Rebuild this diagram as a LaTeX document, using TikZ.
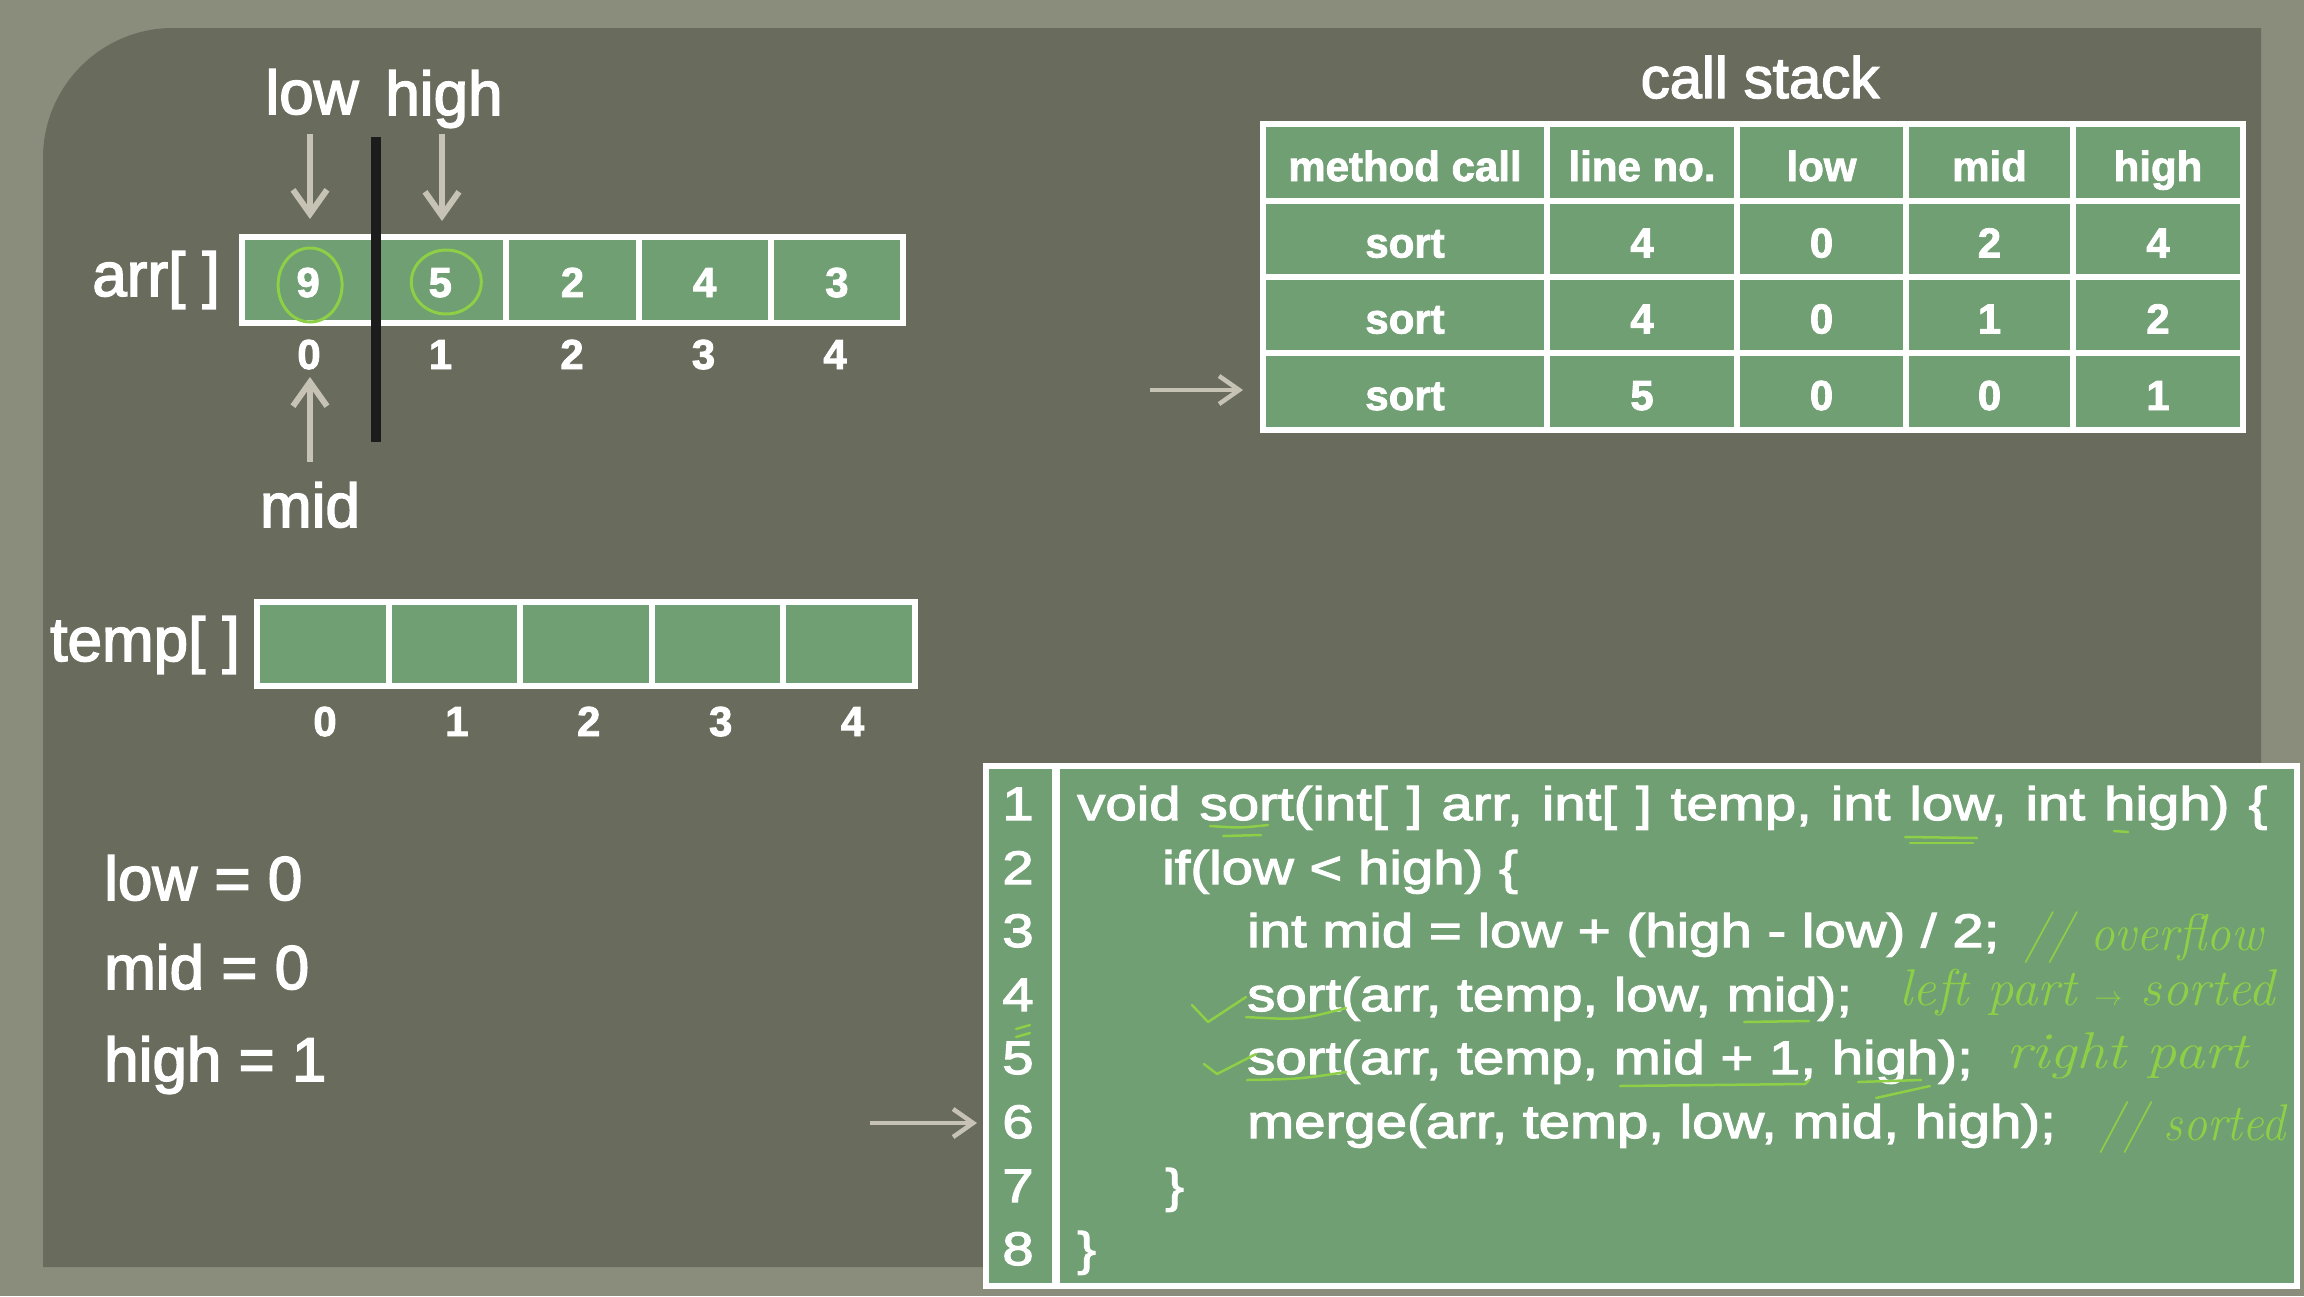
\documentclass[tikz,border=0pt]{standalone}
\usepackage{fontspec}
\newfontfamily\sansf[FakeBold=2.5]{Liberation Sans}
\newfontfamily\sansb[FakeBold=2]{Liberation Sans Bold}
\newfontfamily\codef[FakeStretch=1.2, FakeBold=2.5]{Liberation Sans}
\usetikzlibrary{arrows.meta}
\definecolor{frameC}{HTML}{8A8D7B}
\definecolor{panelC}{HTML}{696C5C}
\definecolor{cellC}{HTML}{6F9F72}
\definecolor{handC}{HTML}{8DCF46}
\definecolor{arrowC}{HTML}{C6C2B4}
\definecolor{barC}{HTML}{1C1C1C}
\newcommand\fLabel{\sansf\fontsize{62}{70}\selectfont}
\newcommand\fTitle{\sansf\fontsize{58}{66}\selectfont}
\newcommand\fBold{\sansb\fontsize{42}{50}\selectfont}
\newcommand\fCode{\codef\fontsize{47}{56}\selectfont}
\newcommand\fHand{\rmfamily\itshape\fontsize{47}{54}\selectfont}
\begin{document}
\begin{tikzpicture}[x=1pt,y=-1pt,
  tcell/.style={draw=white, line width=6pt, fill=cellC, text=white, inner sep=0pt, font=\fBold, text height=37pt, text depth=0pt},
  acell/.style={draw=white, line width=6pt, fill=cellC, inner sep=0pt, text=white, font=\fBold, text height=34pt, text depth=0pt},
  idx/.style={text=white, inner sep=0pt, font=\fBold, anchor=base},
  lbl/.style={text=white, inner sep=0pt, font=\fLabel},
  codeln/.style={text=white, inner sep=0pt, font=\fCode},
  hand/.style={draw=handC, line width=2.5pt, line cap=round, line join=round},
  handtxt/.style={text=handC, inner sep=0pt, font=\fHand, anchor=base west},
  garrow/.style={draw=arrowC, line width=6pt, -{Straight Barb[length=24pt,width=34pt]}},
  harrow/.style={draw=arrowC, line width=4.5pt, -{Straight Barb[length=20pt,width=28pt]}}
]
\useasboundingbox (0,0) rectangle (2304,1296);
% background and panel
\fill[frameC] (0,0) rectangle (2304,1296);
\fill[panelC] (43,1267) -- (43,158) arc[start angle=180, end angle=90, radius=130pt] -- (2261,28) -- (2261,1267) -- cycle;

% labels around arr
\node[lbl, anchor=base] (lowlbl) at (312,114) {low};
\node[lbl, anchor=base] (highlbl) at (444,115) {high};
\node[lbl, anchor=base] (midlbl) at (310,527) {mid};
\node[lbl, anchor=base east] (arrlbl) at (220,296) {arr[ ]};
\node[lbl, anchor=base east] (templbl) at (240,661) {temp[ ]};

% arr cells
\foreach \v [count=\i from 0] in {9,5,2,4,3}{
  \node[acell, minimum width=132.2pt, minimum height=86pt] (a\i) at ({308.1+132.2*\i},280) {\v};
  \node[idx] (ai\i) at ({309+131.5*\i},369) {\i};
}
% temp cells
\foreach \i in {0,...,4}{
  \node[acell, minimum width=131.6pt, minimum height=84pt] (t\i) at ({322.8+131.6*\i},644) {};
  \node[idx] (ti\i) at ({325+131.9*\i},736) {\i};
}

% divider bar
\coordinate (barA) at (376,137);
\coordinate (barB) at (376,442);
\draw[barC, line width=10pt] (barA) -- (barB);

% circles
\draw[hand, line width=3pt] (a0.center) ++(2,5) ellipse [x radius=32pt, y radius=37pt];
\draw[hand, line width=3pt] (a1.center) ++(6,2) ellipse [x radius=35pt, y radius=32pt];

% pointer arrows
\coordinate (lowA) at (310,134);
\coordinate (lowB) at (310,219);
\draw[garrow] (lowA) -- (lowB);
\coordinate (highA) at (442,134);
\coordinate (highB) at (442,221);
\draw[garrow] (highA) -- (highB);
\coordinate (midA) at (310,462);
\coordinate (midB) at (310,377);
\draw[garrow] (midA) -- (midB);

% variables
\node[lbl, anchor=base west] (vlow) at (104,900) {low = 0};
\node[lbl, anchor=base west] (vmid) at (104,989) {mid = 0};
\node[lbl, anchor=base west] (vhigh) at (104,1081) {high = 1};

% call stack
\node[text=white, inner sep=0pt, font=\fTitle, anchor=base] (title) at (1760,98) {call stack};
\foreach \r/\yc/\h/\ta/\tb/\tc/\td/\te in {0/162.5/77/method call/line no./low/mid/high, 1/239/76/sort/4/0/2/4, 2/315/76/sort/4/0/1/2, 3/391.5/77/sort/5/0/0/1}{
  \node[tcell, minimum width=284pt, minimum height=\h pt] (c\r-0) at (1405,\yc) {\ta};
  \node[tcell, minimum width=190pt, minimum height=\h pt] (c\r-1) at (1642,\yc) {\tb};
  \node[tcell, minimum width=169pt, minimum height=\h pt] (c\r-2) at (1821.5,\yc) {\tc};
  \node[tcell, minimum width=167pt, minimum height=\h pt] (c\r-3) at (1989.5,\yc) {\td};
  \node[tcell, minimum width=170pt, minimum height=\h pt] (c\r-4) at (2158,\yc) {\te};
}
\coordinate (tarrA) at (1150,390);
\coordinate (tarrB) at (1243,390);
\draw[harrow] (tarrA) -- (tarrB);

% code box
\node[draw=white, line width=6pt, fill=cellC, anchor=north west, inner sep=0pt, minimum width=1311pt, minimum height=520pt] (code) at (983,763) {};
\coordinate (dvA) at (1056,763);
\coordinate (dvB) at (1056,1283);
\draw[white, line width=8pt] (dvA) -- (dvB);
\coordinate (carrA) at (870,1123);
\coordinate (carrB) at (977,1123);
\draw[harrow] (carrA) -- (carrB);

\foreach \n/\y in {1/820,2/884,3/947,4/1011,5/1074,6/1138,7/1202,8/1265}{
  \node[codeln, anchor=base] (n\n) at (1018,\y) {\n};
}
\node[codeln, anchor=base west] (l1) at (1077,820) {\spaceskip=19pt\relax void sort(int[ ] arr, int[ ] temp, int low, int high) \{};
\node[codeln, anchor=base west] (l2) at (1162,884) {if(low < high) \{};
\node[codeln, anchor=base west] (l3) at (1247,947) {int mid = low + (high - low) / 2;};
\node[codeln, anchor=base west] (l4) at (1247,1011) {sort(arr, temp, low, mid);};
\node[codeln, anchor=base west] (l5) at (1247,1074) {sort(arr, temp, mid + 1, high);};
\node[codeln, anchor=base west] (l6) at (1247,1138) {merge(arr, temp, low, mid, high);};
\node[codeln, anchor=base west] (l7) at (1165,1202) {\}};
\node[codeln, anchor=base west] (l8) at (1077,1265) {\}};

% handwritten notes
\node[handtxt] (h3) at (2024,950) {\scalebox{1.04}[1.1]{// overflow}};
\node[handtxt] (h4) at (1899,1005) {\scalebox{1.12}[1.1]{left part $\rightarrow$ sorted}};
\node[handtxt] (h5) at (2006,1068) {\scalebox{1.28}[1.1]{right part}};
\node[handtxt] (h6) at (2099,1140) {\scalebox{1.02}[1.1]{// sorted}};

\draw[hand] (1210,826) .. controls (1240,828) .. (1268,825);
\draw[hand] (1223,836) -- (1261,835);
\draw[hand] (1905,837) -- (1977,838);
\draw[hand] (1910,843) -- (1973,843);
\draw[hand] (2114,831) -- (2128,832);
\draw[hand] (1192,1005) -- (1208,1022) -- (1246,997);
\draw[hand] (1246,1017) .. controls (1300,1020) .. (1346,1008);
\draw[hand] (1744,1022) -- (1809,1021);
\draw[hand] (1016,1029) -- (1030,1025);
\draw[hand] (1016,1037) -- (1030,1033);
\draw[hand] (1204,1064) -- (1217,1074) -- (1256,1054);
\draw[hand] (1247,1080) .. controls (1300,1079) .. (1346,1072);
\draw[hand] (1620,1086) -- (1805,1084) -- (1809,1080);
\draw[hand] (1858,1082) -- (1921,1080);
\draw[hand] (1876,1098) -- (1930,1086);
\end{tikzpicture}
\end{document}
